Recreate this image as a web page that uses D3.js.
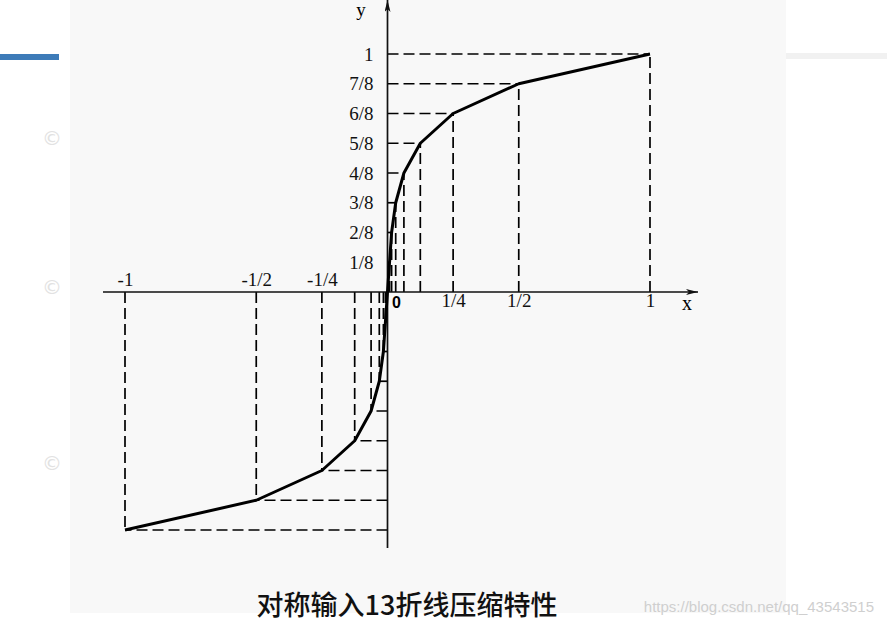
<!DOCTYPE html>
<html>
<head>
<meta charset="utf-8">
<script src="https://cdn.jsdelivr.net/npm/d3@7"></script>
<style>
  body { margin: 0; background: #fff; }
  svg { display: block; }
  .tick text { font-family: "Liberation Serif", "DejaVu Serif", serif; fill: #111; }
</style>
</head>
<body>
<svg width="887" height="622"></svg>
<script>
// 13-segment (A-law) breakpoints, positive half; the negative half mirrors it
var segX = [0, 1/128, 1/64, 1/32, 1/16, 1/8, 1/4, 1/2, 1];
var segY = [0, 1/8, 2/8, 3/8, 4/8, 5/8, 6/8, 7/8, 1];

var yTicks = [1/8, 2/8, 3/8, 4/8, 5/8, 6/8, 7/8, 1];
var yLabels = ["1/8", "2/8", "3/8", "4/8", "5/8", "6/8", "7/8", "1"];
var xTicksPos = [1/4, 1/2, 1];
var xLabelsPos = ["1/4", "1/2", "1"];
var xTicksNeg = [-1, -1/2, -1/4];
var xLabelsNeg = ["-1", "-1/2", "-1/4"];
var title = "对称输入13折线压缩特性";

var svg = d3.select("svg");

// scanned page background + slide decorations
svg.append("rect").attr("x", 70).attr("y", 0).attr("width", 716).attr("height", 613).attr("fill", "#f8f8f8");
svg.append("rect").attr("x", 0).attr("y", 54).attr("width", 59).attr("height", 6).attr("fill", "#3d7bb8");
svg.append("rect").attr("x", 786).attr("y", 53).attr("width", 101).attr("height", 6).attr("fill", "#f1f1f1");
[138, 287, 463].forEach(function(cy) {
  svg.append("text").attr("x", 52).attr("y", cy + 7).attr("text-anchor", "middle")
    .attr("font-family", "DejaVu Sans").attr("font-size", 20).attr("fill", "#e2e2e2").text("©");
});

var x = d3.scaleLinear().domain([-1, 1]).range([125, 650]);
var y = d3.scaleLinear().domain([-1, 1]).range([530, 54]);

var pts = segX.map(function(d, i) { return [d, segY[i]]; });
var negPts = pts.slice(1).map(function(p) { return [-p[0], -p[1]]; });
var curve = negPts.slice().reverse().concat(pts);

var g = svg.append("g");

// dashed guide lines
var dash = g.append("g").attr("stroke", "#000").attr("stroke-width", 1.7)
  .attr("stroke-dasharray", "11,5").attr("fill", "none");
pts.slice(1).concat(negPts).forEach(function(p) {
  dash.append("line").attr("x1", x(p[0])).attr("y1", y(0)).attr("x2", x(p[0])).attr("y2", y(p[1]));
  dash.append("line").attr("x1", x(0)).attr("y1", y(p[1])).attr("x2", x(p[0])).attr("y2", y(p[1]));
});

// axes lines with arrows
var defs = svg.append("defs");
defs.append("marker").attr("id", "arr").attr("viewBox", "0 0 12 6")
  .attr("refX", 12).attr("refY", 3).attr("markerWidth", 12).attr("markerHeight", 6)
  .attr("markerUnits", "userSpaceOnUse").attr("orient", "auto")
  .append("path").attr("d", "M0,0L12,3L0,6L3,3Z").attr("fill", "#111");

g.append("line").attr("x1", 103).attr("y1", y(0)).attr("x2", 698).attr("y2", y(0))
  .attr("stroke", "#111").attr("stroke-width", 1.7).attr("marker-end", "url(#arr)");
g.append("line").attr("x1", x(0)).attr("y1", 548).attr("x2", x(0)).attr("y2", 0)
  .attr("stroke", "#111").attr("stroke-width", 1.7).attr("marker-end", "url(#arr)");

// the compression curve
g.append("path").datum(curve)
  .attr("d", d3.line().x(function(d) { return x(d[0]); }).y(function(d) { return y(d[1]); }))
  .attr("fill", "none").attr("stroke", "#000").attr("stroke-width", 3).attr("stroke-linejoin", "round");

// tick labels
var yAxis = g.append("g").attr("transform", "translate(" + x(0) + ",0)")
  .call(d3.axisLeft(y).tickValues(yTicks).tickFormat(function(d, i) { return yLabels[i]; }).tickSize(0).tickPadding(14));
var xAxisPos = g.append("g").attr("transform", "translate(0," + y(0) + ")")
  .call(d3.axisBottom(x).tickValues(xTicksPos).tickFormat(function(d, i) { return xLabelsPos[i]; }).tickSize(0).tickPadding(1));
var xAxisNeg = g.append("g").attr("transform", "translate(0," + y(0) + ")")
  .call(d3.axisTop(x).tickValues(xTicksNeg).tickFormat(function(d, i) { return xLabelsNeg[i]; }).tickSize(0).tickPadding(6));
[yAxis, xAxisPos, xAxisNeg].forEach(function(a) {
  a.select(".domain").remove();
  a.selectAll("text").attr("font-size", 19).attr("font-family", null);
});

g.append("text").attr("x", x(0) + 9).attr("y", y(0) + 16).attr("text-anchor", "middle")
  .attr("font-family", "Liberation Sans").attr("font-weight", "bold").attr("font-size", 16).text("0");
g.append("text").attr("x", 361).attr("y", 16).attr("text-anchor", "middle")
  .attr("font-family", "Liberation Serif").attr("font-size", 19).text("y");
g.append("text").attr("x", 687).attr("y", 310).attr("text-anchor", "middle")
  .attr("font-family", "Liberation Serif").attr("font-size", 20).text("x");

// caption and watermark
svg.append("text").attr("x", 407).attr("y", 615).attr("text-anchor", "middle")
  .attr("font-family", "Noto Sans CJK SC").attr("font-weight", 500).attr("font-size", 27)
  .attr("fill", "#111").text(title);
svg.append("text").attr("x", 874).attr("y", 612).attr("text-anchor", "end")
  .attr("font-family", "Liberation Sans Narrow, Liberation Sans").attr("font-size", 15)
  .attr("fill", "#cfcfcf").text("https://blog.csdn.net/qq_43543515");
</script>
</body>
</html>
